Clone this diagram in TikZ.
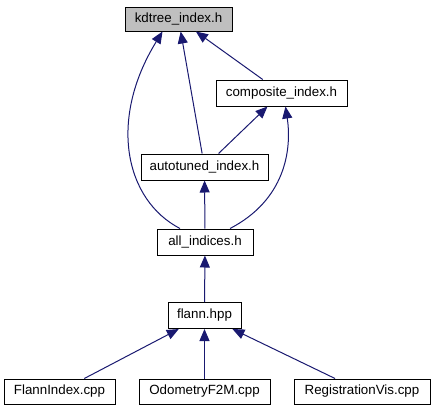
\documentclass[tikz,border=0pt]{standalone}
\usepackage{fontspec}
\setmainfont{Liberation Sans}
\usetikzlibrary{arrows.meta,calc}
\definecolor{edgeblue}{RGB}{25,25,112}
\begin{document}
\begin{tikzpicture}[x=0.75pt,y=-0.75pt,
  file/.style={draw,line width=0.75pt,inner sep=0pt,minimum height=19.5pt,font=\fontsize{10}{12}\selectfont},
  dep/.style={draw=edgeblue,line width=0.75pt,-{Triangle[length=9pt,width=7.5pt]}}]
\useasboundingbox (0,0) rectangle (435,411);
\node[file,fill=black!25,minimum width=80.25pt,minimum height=18pt] (kdtree) at (178.5,19) {kdtree\_index.h};
\node[file,minimum width=98.25pt] (composite) at (281.5,93) {composite\_index.h};
\node[file,minimum width=95.25pt] (autotuned) at (204.5,167) {autotuned\_index.h};
\node[file,minimum width=72pt] (allind) at (205,242) {all\_indices.h};
\node[file,minimum width=54.75pt] (flann) at (204.5,315.5) {flann.hpp};
\draw[dep] (composite) -- (kdtree);
\draw[dep] (autotuned) -- (kdtree);
\draw[dep] (autotuned) -- (composite);
\draw[dep] (allind) -- (autotuned);
\draw[dep] ($(allind.north)+(-25,0)$) .. controls (125,200) and (108,120) .. ($(kdtree.south)+(-16,0)$);
\draw[dep] ($(allind.north)+(25,0)$) .. controls (285,200) and (292,150) .. ($(composite.south)+(4,0)$);
\draw[dep] (flann) -- (allind);
\foreach \name/\x/\w/\txt in {flannidx/59.5/83.25/FlannIndex.cpp,odom/204.5/98.25/OdometryF2M.cpp,regvis/362/102/RegistrationVis.cpp}{
\node[file,minimum width=\w pt,minimum height=18.75pt] (\name) at (\x,391.5) {\txt};
\draw[dep] (\name) -- (flann);}
\end{tikzpicture}
\end{document}
